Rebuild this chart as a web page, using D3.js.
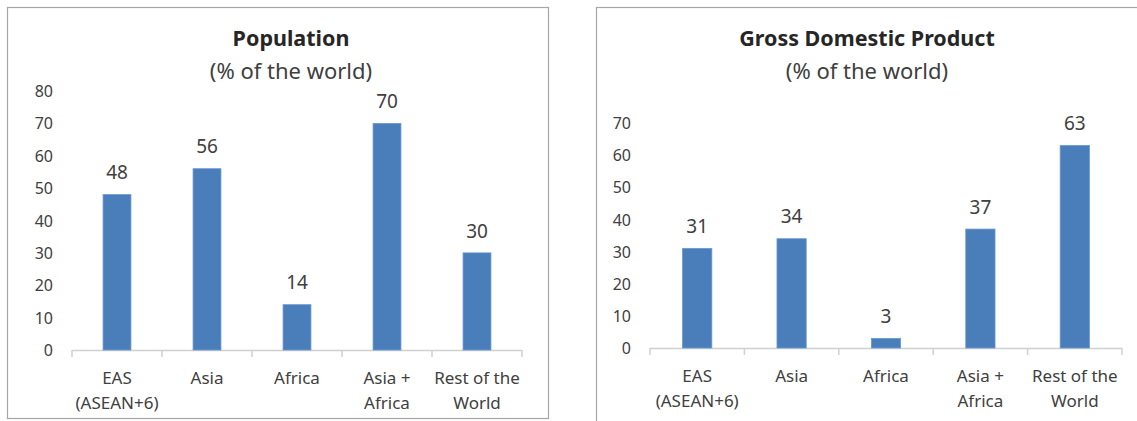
<!DOCTYPE html>
<html>
<head>
<meta charset="utf-8">
<script src="https://cdn.jsdelivr.net/npm/d3@7"></script>
<style>
  body { margin: 0; background: #fff; }
  svg text { font-family: "Noto Sans", "Open Sans", sans-serif; fill: #404040; }
</style>
</head>
<body>
<svg id="chart" width="1137" height="421"></svg>
<script>
const categories = ["EAS\n(ASEAN+6)", "Asia", "Africa", "Asia +\nAfrica", "Rest of the\nWorld"];
const populationValues = [48, 56, 14, 70, 30];
const gdpValues = [31, 34, 3, 37, 63];
const populationTicks = [0, 10, 20, 30, 40, 50, 60, 70, 80];
const gdpTicks = [0, 10, 20, 30, 40, 50, 60, 70];

const svg = d3.select("#chart");

function drawPanel(opts) {
  const g = svg.append("g");

  // panel frame
  g.append("rect")
    .attr("x", opts.frame[0] + 0.5)
    .attr("y", opts.frame[1] + 0.5)
    .attr("width", opts.frame[2])
    .attr("height", opts.frame[3])
    .attr("fill", "#fff")
    .attr("stroke", "#a6a6a6")
    .attr("stroke-width", 1.2);

  const x = d3
    .scaleBand()
    .domain(categories)
    .range([opts.left, opts.right])
    .paddingInner(0.69)
    .paddingOuter(0.345);

  const y = d3
    .scaleLinear()
    .domain([0, d3.max(opts.ticks)])
    .range([opts.base, opts.top]);

  const yAxis = d3.axisLeft(y).tickValues(opts.ticks).tickSize(0).tickPadding(0);
  const ya = g
    .append("g")
    .attr("transform", `translate(${opts.left - 19},0)`)
    .call(yAxis);
  ya.select(".domain").remove();
  ya.selectAll("text")
    .attr("font-size", 16)
    .attr("dy", "0.35em")
    .style("font-family", null);

  // category axis
  g.append("line")
    .attr("x1", opts.left)
    .attr("x2", opts.right)
    .attr("y1", opts.base + 0.5)
    .attr("y2", opts.base + 0.5)
    .attr("stroke", "#d0d0d0")
    .attr("stroke-width", 1.5);

  const step = x.step();
  const bounds = d3.range(categories.length + 1).map((i) => opts.left + i * step);
  g.selectAll(".xtick")
    .data(bounds)
    .enter()
    .append("line")
    .attr("x1", (d) => d)
    .attr("x2", (d) => d)
    .attr("y1", opts.base)
    .attr("y2", opts.base + 7)
    .attr("stroke", "#d0d0d0")
    .attr("stroke-width", 1.5);

  g.selectAll(".bar")
    .data(opts.values)
    .enter()
    .append("rect")
    .attr("x", (d, i) => x(categories[i]))
    .attr("y", (d) => y(d))
    .attr("width", x.bandwidth())
    .attr("height", (d) => y(0) - y(d))
    .attr("fill", "#4a7ebb")
    .attr("stroke", "#6a98d0")
    .attr("stroke-width", 0.8);

  g.selectAll(".val")
    .data(opts.values)
    .enter()
    .append("text")
    .attr("x", (d, i) => x(categories[i]) + x.bandwidth() / 2)
    .attr("y", (d) => y(d) - 22)
    .attr("dy", "0.35em")
    .attr("text-anchor", "middle")
    .attr("font-size", 19)
    .text((d) => d);

  const cat = g
    .selectAll(".cat")
    .data(categories)
    .enter()
    .append("text")
    .attr("text-anchor", "middle")
    .attr("font-size", 17)
    .attr("y", opts.base + 28);
  cat.each(function (d) {
    const t = d3.select(this);
    d.split("\n").forEach((line, i) => {
      t.append("tspan")
        .attr("x", x(d) + x.bandwidth() / 2)
        .attr("dy", i === 0 ? "0.35em" : 25)
        .text(line);
    });
  });

  g.append("text")
    .attr("x", opts.titleX)
    .attr("y", 38)
    .attr("dy", "0.35em")
    .attr("text-anchor", "middle")
    .attr("font-size", 21.5)
    .attr("font-weight", "bold")
    .style("fill", "#262626")
    .text(opts.title);

  g.append("text")
    .attr("x", opts.titleX)
    .attr("y", 71)
    .attr("dy", "0.35em")
    .attr("text-anchor", "middle")
    .attr("font-size", 22)
    .text("(% of the world)");
}

drawPanel({
  frame: [7, 7, 541, 411],
  left: 72,
  right: 522,
  base: 350,
  top: 91,
  ticks: populationTicks,
  values: populationValues,
  title: "Population",
  titleX: 291,
});

drawPanel({
  frame: [596, 7, 560, 430],
  left: 650,
  right: 1122,
  base: 348,
  top: 123,
  ticks: gdpTicks,
  values: gdpValues,
  title: "Gross Domestic Product",
  titleX: 867,
});
</script>
</body>
</html>
